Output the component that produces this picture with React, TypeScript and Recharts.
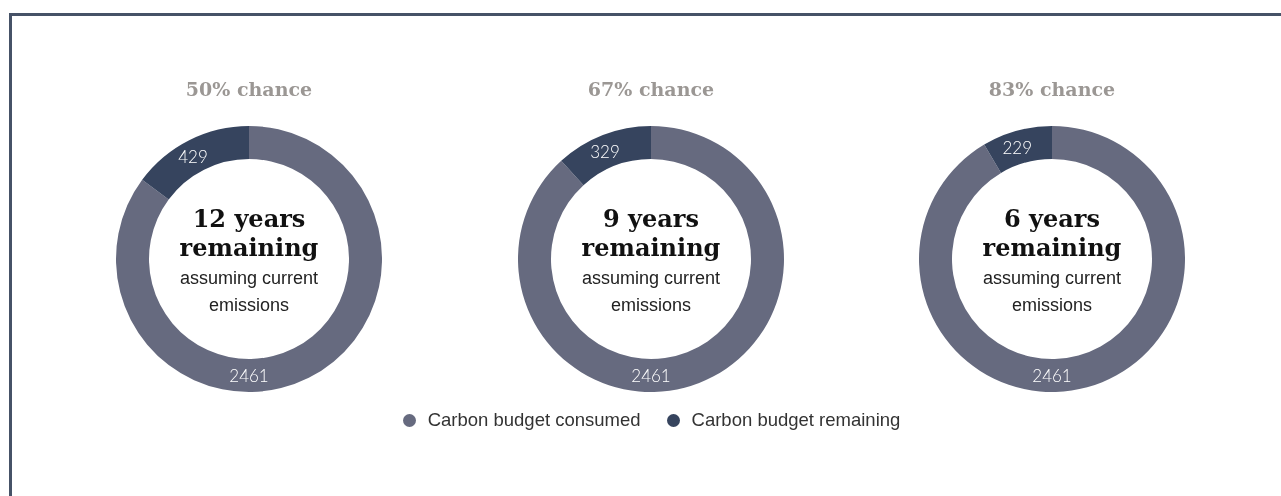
import React from 'react';
import { PieChart, Pie, Cell, Legend } from 'recharts';

const chances = ['50% chance', '67% chance', '83% chance'];
const yearsLeft = ['12 years', '9 years', '6 years'];
const consumed = [2461, 2461, 2461];
const remaining = [429, 329, 229];
const seriesNames = ['Carbon budget consumed', 'Carbon budget remaining'];
const colors = ['#666a7f', '#36445e'];

const W = 1265;
const H = 480;
const centersX = [236, 638, 1039];
const CY = 246;

const RAD = Math.PI / 180;

const makeLabel = (k: number) => (props: any) => {
  const { cx, cy, midAngle, innerRadius, outerRadius, value, index } = props;
  const r = (innerRadius + outerRadius) / 2;
  const ang = index === 0 ? -90 : midAngle + 2;
  const x = cx + r * Math.cos(-ang * RAD);
  const y = cy + r * Math.sin(-ang * RAD);
  return (
    <g>
      <text
        x={x}
        y={y}
        fill="#ffffff"
        textAnchor="middle"
        dominantBaseline="central"
        fontFamily="Lato, 'Open Sans', sans-serif"
        fontWeight={300}
        fontSize={17}
      >
        {value}
      </text>
      {index === 0 && (
        <g>
          <text x={cx} y={cy - 170} textAnchor="middle" dominantBaseline="central"
            fill="#9b9794" fontFamily="'DejaVu Serif', serif" fontWeight={700} fontSize={19}>
            {chances[k]}
          </text>
          <text x={cx} y={cy - 41} textAnchor="middle" dominantBaseline="central"
            fill="#111" fontFamily="'DejaVu Serif', serif" fontWeight={700} fontSize={24}>
            {yearsLeft[k]}
          </text>
          <text x={cx} y={cy - 12} textAnchor="middle" dominantBaseline="central"
            fill="#111" fontFamily="'DejaVu Serif', serif" fontWeight={700} fontSize={24}>
            remaining
          </text>
          <text x={cx} y={cy + 19} textAnchor="middle" dominantBaseline="central"
            fill="#222" fontFamily="'Liberation Sans', Arial, sans-serif" fontSize={18}>
            assuming current
          </text>
          <text x={cx} y={cy + 46} textAnchor="middle" dominantBaseline="central"
            fill="#222" fontFamily="'Liberation Sans', Arial, sans-serif" fontSize={18}>
            emissions
          </text>
        </g>
      )}
    </g>
  );
};

const renderLegend = () => (
  <div style={{ position: 'absolute', left: 7, width: 1273, display: 'flex', justifyContent: 'center', gap: 26, fontFamily: "'Liberation Sans', Arial, sans-serif", fontSize: 18.5, color: '#333', lineHeight: '20px' }}>
    {seriesNames.map((n, i) => (
      <div key={n} style={{ display: 'flex', alignItems: 'center' }}>
        <span style={{ width: 13, height: 13, borderRadius: '50%', background: colors[i], display: 'inline-block', marginRight: 12 }} />
        {n}
      </div>
    ))}
  </div>
);

export default function App() {
  return (
    <div style={{ position: 'relative', width: W, height: H }}>
      <div style={{ position: 'fixed', left: 9, top: 13, right: -10, bottom: -10, borderTop: '3px solid #465267', borderLeft: '3px solid #465267', pointerEvents: 'none' }} />
      <PieChart width={W} height={H} style={{ position: 'absolute', left: 0, top: 0, overflow: 'visible' }}>
        {chances.map((c, k) => (
          <Pie
            key={c}
            data={[
              { name: seriesNames[0], value: consumed[k] },
              { name: seriesNames[1], value: remaining[k] },
            ]}
            dataKey="value"
            nameKey="name"
            cx={centersX[k]}
            cy={CY}
            innerRadius={100}
            outerRadius={133}
            startAngle={90}
            endAngle={-270}
            stroke="none"
            labelLine={false}
            label={makeLabel(k)}
            isAnimationActive={false}
          >
            <Cell fill={colors[0]} />
            <Cell fill={colors[1]} />
          </Pie>
        ))}
        <Legend content={renderLegend} wrapperStyle={{ top: 402, left: 0, width: W }} />
      </PieChart>
    </div>
  );
}
